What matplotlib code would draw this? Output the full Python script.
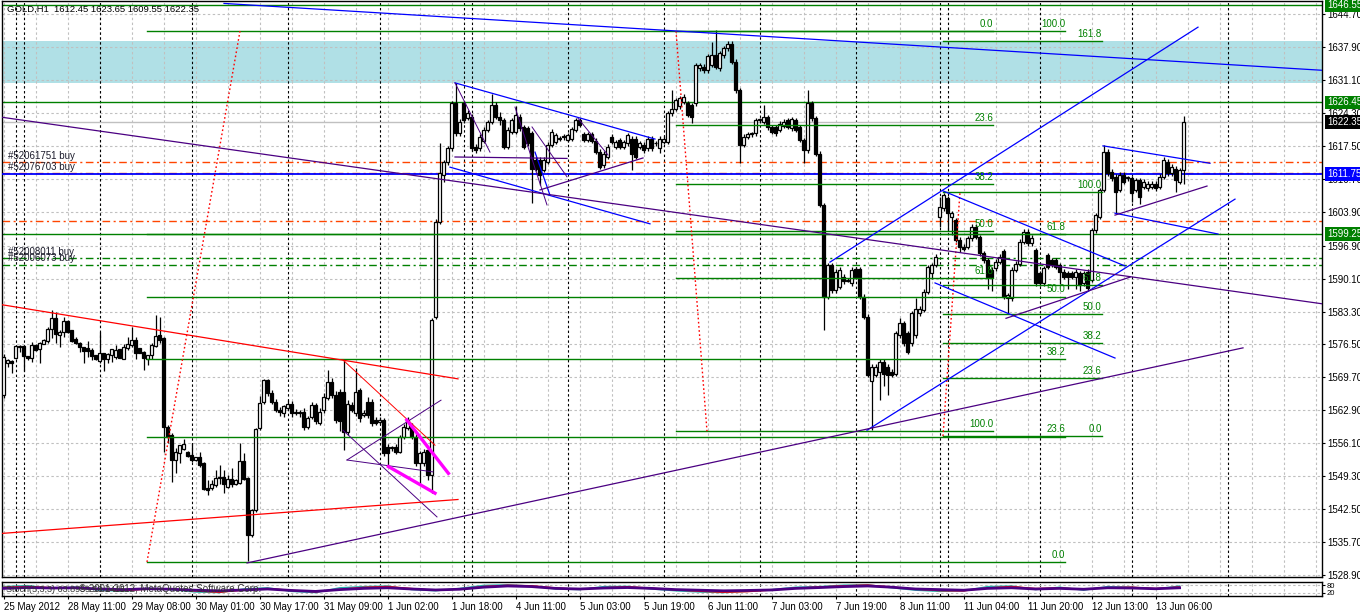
import matplotlib
matplotlib.use("Agg")
import matplotlib.pyplot as plt
from matplotlib.transforms import blended_transform_factory
import numpy as np

plt.rcParams['font.family'] = ['Liberation Sans', 'DejaVu Sans']

# GOLD H1 candles (open, high, low, close), one per hour bar
o = [1566.1, 1572.7, 1573.1, 1573.8, 1576.0, 1576.2, 1574.1, 1573.8, 1576.4, 1575.6,
     1576.6, 1577.3, 1579.6, 1581.9, 1578.4, 1579.1, 1581.4, 1579.4, 1577.6, 1576.9,
     1575.9, 1575.8, 1575.3, 1574.3, 1573.1, 1574.7, 1573.4, 1574.3, 1574.0, 1575.5,
     1573.6, 1575.7, 1576.4, 1577.5, 1575.7, 1575.0, 1573.6, 1574.3, 1576.2, 1578.4,
     1577.8, 1559.5, 1557.8, 1552.6, 1554.0, 1554.9, 1554.4, 1553.7, 1552.6, 1553.3,
     1552.0, 1546.9, 1546.8, 1547.5, 1548.9, 1549.2, 1547.0, 1548.7, 1547.8, 1547.9,
     1552.5, 1548.9, 1537.2, 1542.3, 1559.2, 1564.7, 1569.2, 1566.4, 1564.7, 1563.0,
     1562.3, 1563.3, 1564.3, 1562.3, 1562.6, 1562.6, 1559.5, 1561.6, 1564.0, 1560.2,
     1563.0, 1565.4, 1568.8, 1566.1, 1566.7, 1566.7, 1558.5, 1564.0, 1562.3, 1567.1,
     1562.0, 1564.7, 1564.7, 1560.9, 1560.5, 1560.9, 1555.4, 1555.1, 1555.4, 1554.4,
     1557.5, 1559.2, 1559.5, 1557.5, 1552.0, 1552.0, 1554.7, 1549.5, 1582.2, 1601.8,
     1611.5, 1614.2, 1617.0, 1626.3, 1620.1, 1626.3, 1623.2, 1623.5, 1617.3, 1617.0,
     1618.4, 1620.8, 1622.5, 1626.0, 1623.5, 1622.8, 1617.3, 1620.4, 1620.4, 1623.5,
     1621.4, 1621.1, 1620.1, 1614.6, 1614.6, 1612.5, 1614.2, 1617.7, 1618.3, 1619.0,
     1619.4, 1618.8, 1619.0, 1620.8, 1622.8, 1619.9, 1618.8, 1619.9, 1618.6, 1616.3,
     1613.5, 1615.3, 1619.4, 1617.3, 1618.7, 1617.3, 1618.0, 1619.0, 1619.0, 1617.3,
     1617.7, 1617.0, 1619.0, 1618.0, 1617.0, 1618.3, 1618.3, 1624.2, 1625.2, 1625.7,
     1626.6, 1626.3, 1625.9, 1626.3, 1633.5, 1633.8, 1633.1, 1634.2, 1636.2, 1633.5,
     1636.2, 1637.6, 1638.6, 1634.9, 1629.0, 1617.7, 1619.4, 1619.9, 1620.1, 1622.8,
     1622.5, 1623.4, 1621.4, 1621.4, 1620.8, 1621.6, 1622.8, 1621.1, 1622.8, 1621.4,
     1618.7, 1616.6, 1626.3, 1623.2, 1615.9, 1605.3, 1586.4, 1592.9, 1587.7, 1588.4,
     1590.5, 1589.5, 1589.1, 1592.0, 1592.0, 1586.4, 1582.2, 1568.9, 1570.2, 1570.9,
     1572.9, 1571.9, 1570.9, 1570.5, 1578.4, 1580.9, 1578.8, 1576.7, 1578.4, 1582.9,
     1583.6, 1587.4, 1591.2, 1592.9, 1602.9, 1604.6, 1606.7, 1602.9, 1602.2, 1598.1,
     1596.7, 1596.7, 1598.4, 1600.8, 1598.7, 1595.3, 1593.9, 1591.9, 1592.2, 1593.6,
     1595.7, 1586.0, 1586.0, 1591.9, 1593.2, 1597.7, 1599.8, 1597.4, 1596.0, 1591.2,
     1589.1, 1594.9, 1593.9, 1593.9, 1592.9, 1591.5, 1591.2, 1591.2, 1590.5, 1591.2,
     1589.1, 1591.5, 1589.8, 1600.1, 1602.9, 1608.4, 1616.3, 1612.2, 1611.1, 1608.4,
     1611.5, 1610.8, 1610.8, 1608.4, 1610.4, 1609.1, 1608.7, 1609.1, 1609.7, 1609.1,
     1611.1, 1614.2, 1611.8, 1612.8, 1610.1, 1612.45]
h = [1574.5, 1573.4, 1573.3, 1576.4, 1576.3, 1576.3, 1574.2, 1577.1, 1576.5, 1577.0,
     1577.6, 1580.2, 1583.7, 1583.3, 1579.5, 1582.2, 1581.5, 1579.5, 1578.0, 1577.0,
     1576.0, 1577.2, 1575.7, 1574.4, 1579.1, 1574.8, 1574.7, 1575.6, 1576.4, 1575.6,
     1576.6, 1578.1, 1580.2, 1578.1, 1575.8, 1575.1, 1574.3, 1576.7, 1582.6, 1582.2,
     1578.0, 1559.9, 1558.2, 1555.1, 1555.8, 1556.9, 1554.6, 1556.1, 1553.2, 1554.4,
     1552.3, 1548.6, 1548.5, 1550.6, 1551.6, 1550.6, 1549.6, 1550.9, 1548.7, 1556.2,
     1554.0, 1549.2, 1542.5, 1559.2, 1565.9, 1569.4, 1569.4, 1567.0, 1565.3, 1563.5,
     1564.0, 1565.0, 1564.8, 1563.2, 1563.0, 1563.4, 1561.8, 1564.6, 1564.5, 1563.4,
     1566.5, 1571.2, 1569.5, 1566.8, 1567.3, 1573.3, 1565.0, 1564.6, 1571.6, 1567.6,
     1563.0, 1565.6, 1565.3, 1561.5, 1561.5, 1561.4, 1555.9, 1555.6, 1556.0, 1557.9,
     1560.0, 1561.5, 1560.2, 1558.0, 1554.5, 1555.0, 1555.1, 1582.0, 1602.3, 1618.0,
     1614.6, 1617.4, 1626.8, 1630.4, 1623.0, 1626.8, 1624.8, 1624.0, 1617.8, 1619.9,
     1621.3, 1622.9, 1628.2, 1626.5, 1624.5, 1623.3, 1621.3, 1623.3, 1625.7, 1624.0,
     1621.9, 1621.6, 1620.6, 1615.1, 1615.1, 1615.1, 1618.2, 1620.9, 1620.2, 1619.6,
     1620.0, 1620.2, 1621.4, 1623.2, 1623.3, 1620.4, 1620.4, 1620.4, 1619.1, 1616.8,
     1616.4, 1617.8, 1619.9, 1618.8, 1619.2, 1618.8, 1620.2, 1619.5, 1619.5, 1618.5,
     1618.2, 1619.5, 1619.5, 1618.5, 1619.5, 1619.5, 1624.7, 1629.0, 1627.4, 1627.8,
     1628.1, 1626.8, 1626.4, 1634.7, 1634.7, 1634.3, 1636.5, 1639.0, 1641.4, 1637.1,
     1638.1, 1639.1, 1639.1, 1635.4, 1629.5, 1619.9, 1620.4, 1620.4, 1623.3, 1623.3,
     1625.9, 1623.9, 1621.9, 1621.9, 1622.6, 1623.0, 1623.3, 1623.5, 1623.3, 1621.9,
     1619.2, 1629.0, 1626.8, 1623.7, 1616.4, 1605.8, 1593.4, 1593.4, 1592.0, 1592.4,
     1591.0, 1590.3, 1592.4, 1592.5, 1592.5, 1586.9, 1582.7, 1572.4, 1572.4, 1573.4,
     1573.4, 1572.4, 1571.4, 1579.3, 1582.0, 1581.4, 1579.3, 1583.4, 1586.0, 1584.4,
     1587.9, 1593.0, 1593.4, 1595.1, 1607.0, 1607.7, 1607.2, 1604.1, 1602.7, 1598.6,
     1597.2, 1598.9, 1601.3, 1601.3, 1599.2, 1595.8, 1594.4, 1592.4, 1594.1, 1595.1,
     1596.2, 1587.2, 1592.4, 1593.7, 1598.2, 1600.3, 1600.3, 1599.0, 1596.5, 1591.7,
     1592.7, 1595.4, 1594.4, 1594.4, 1593.4, 1592.0, 1591.7, 1591.7, 1592.0, 1591.7,
     1591.7, 1592.0, 1600.6, 1603.7, 1608.9, 1617.7, 1616.8, 1612.7, 1611.6, 1612.0,
     1612.0, 1611.3, 1611.3, 1610.9, 1610.9, 1610.6, 1610.2, 1610.2, 1610.2, 1611.6,
     1615.1, 1614.7, 1613.7, 1613.3, 1613.0, 1623.65]
l = [1565.5, 1571.8, 1570.7, 1573.6, 1575.0, 1571.1, 1573.3, 1572.9, 1575.2, 1572.7,
     1576.5, 1576.7, 1577.8, 1576.7, 1576.0, 1578.1, 1578.8, 1577.1, 1576.6, 1575.0,
     1572.6, 1574.0, 1573.2, 1573.3, 1572.7, 1571.1, 1572.6, 1572.9, 1573.6, 1573.7,
     1573.4, 1575.4, 1576.0, 1573.6, 1574.7, 1571.2, 1572.3, 1573.6, 1576.0, 1576.7,
     1554.4, 1556.1, 1548.2, 1549.9, 1552.0, 1554.7, 1553.3, 1552.3, 1552.4, 1551.3,
     1546.5, 1545.4, 1546.5, 1547.1, 1547.8, 1545.8, 1546.8, 1547.1, 1547.4, 1547.7,
     1548.5, 1531.7, 1536.8, 1542.0, 1558.8, 1564.3, 1565.9, 1564.2, 1562.5, 1561.8,
     1561.6, 1563.0, 1561.5, 1562.0, 1561.6, 1558.9, 1559.0, 1561.2, 1560.0, 1559.8,
     1562.4, 1565.0, 1565.5, 1560.2, 1558.6, 1554.7, 1557.8, 1562.5, 1561.8, 1560.5,
     1561.5, 1561.4, 1559.6, 1559.8, 1560.0, 1553.5, 1551.3, 1554.6, 1553.9, 1554.0,
     1557.0, 1558.8, 1557.0, 1551.5, 1547.8, 1551.5, 1548.5, 1545.8, 1581.8, 1601.3,
     1610.0, 1613.6, 1616.5, 1619.6, 1619.5, 1622.3, 1622.8, 1616.5, 1616.0, 1616.5,
     1618.0, 1620.3, 1622.0, 1623.0, 1621.8, 1616.8, 1616.8, 1619.9, 1620.0, 1620.6,
     1616.8, 1617.5, 1605.6, 1612.3, 1609.5, 1612.0, 1613.7, 1617.2, 1617.8, 1618.5,
     1618.8, 1618.3, 1618.5, 1620.3, 1621.3, 1618.2, 1618.3, 1618.1, 1615.8, 1612.7,
     1613.0, 1614.8, 1617.8, 1616.8, 1616.8, 1616.8, 1617.5, 1612.5, 1614.7, 1616.8,
     1616.1, 1616.5, 1616.5, 1617.5, 1616.0, 1617.8, 1617.8, 1623.7, 1624.7, 1625.2,
     1626.1, 1623.4, 1622.2, 1625.8, 1633.0, 1632.6, 1632.6, 1633.7, 1633.3, 1633.0,
     1635.7, 1637.1, 1634.4, 1628.5, 1613.9, 1617.2, 1618.9, 1619.4, 1619.6, 1622.3,
     1622.0, 1620.8, 1619.9, 1619.6, 1620.3, 1621.1, 1620.9, 1620.6, 1620.3, 1618.2,
     1613.9, 1616.1, 1622.7, 1615.4, 1604.8, 1579.5, 1585.9, 1587.2, 1587.2, 1587.9,
     1589.0, 1589.3, 1588.6, 1590.0, 1585.9, 1581.7, 1569.7, 1558.8, 1569.7, 1565.0,
     1568.0, 1566.0, 1569.7, 1570.0, 1577.9, 1576.2, 1574.5, 1576.2, 1577.9, 1582.4,
     1583.1, 1586.9, 1590.0, 1592.4, 1600.8, 1604.1, 1600.0, 1599.0, 1597.6, 1595.5,
     1595.8, 1596.2, 1597.9, 1598.2, 1594.8, 1593.4, 1588.0, 1587.5, 1591.7, 1593.1,
     1585.9, 1582.9, 1585.5, 1591.4, 1592.7, 1597.2, 1596.9, 1596.9, 1588.6, 1588.6,
     1588.6, 1592.0, 1592.4, 1592.0, 1589.0, 1590.0, 1588.0, 1590.0, 1588.0, 1587.5,
     1588.6, 1587.6, 1589.3, 1599.6, 1602.4, 1607.9, 1611.3, 1610.3, 1603.6, 1607.9,
     1609.6, 1610.3, 1606.0, 1607.9, 1605.5, 1608.6, 1608.2, 1608.6, 1608.2, 1608.6,
     1610.6, 1611.3, 1611.3, 1608.0, 1609.6, 1609.55]
c = [1574.0, 1573.3, 1572.6, 1576.2, 1576.2, 1574.1, 1573.8, 1576.4, 1575.4, 1576.9,
     1577.4, 1579.6, 1581.9, 1578.7, 1579.1, 1581.4, 1579.1, 1577.3, 1576.9, 1575.9,
     1575.2, 1575.2, 1574.1, 1573.4, 1574.7, 1573.4, 1574.5, 1575.5, 1575.4, 1573.8,
     1576.0, 1576.6, 1577.4, 1574.8, 1574.8, 1573.8, 1574.3, 1576.4, 1578.2, 1577.5,
     1559.5, 1557.5, 1552.6, 1554.2, 1555.7, 1555.9, 1553.4, 1552.6, 1553.2, 1551.6,
     1546.6, 1546.5, 1547.7, 1548.9, 1549.0, 1547.6, 1548.7, 1547.7, 1548.6, 1552.5,
     1548.7, 1537.2, 1542.3, 1559.0, 1564.5, 1569.2, 1566.4, 1564.7, 1563.0, 1562.6,
     1563.7, 1564.3, 1562.3, 1562.6, 1562.3, 1559.5, 1561.3, 1564.0, 1560.6, 1562.6,
     1565.7, 1568.8, 1566.1, 1560.9, 1560.6, 1558.5, 1564.3, 1563.0, 1566.7, 1561.3,
     1562.3, 1561.9, 1560.2, 1560.2, 1560.9, 1554.0, 1554.0, 1555.3, 1554.4, 1557.5,
     1559.5, 1560.9, 1557.5, 1552.0, 1554.0, 1554.4, 1549.5, 1581.5, 1601.8, 1611.8,
     1614.2, 1617.0, 1626.3, 1620.1, 1622.5, 1622.8, 1624.2, 1617.0, 1616.6, 1619.4,
     1620.8, 1622.5, 1626.0, 1623.5, 1622.8, 1617.3, 1620.8, 1622.8, 1623.9, 1621.1,
     1617.3, 1618.0, 1612.8, 1612.8, 1611.5, 1614.6, 1617.7, 1620.4, 1619.7, 1619.1,
     1619.3, 1619.7, 1620.9, 1622.8, 1621.8, 1618.7, 1619.9, 1618.6, 1616.3, 1613.2,
     1615.9, 1617.3, 1618.3, 1618.3, 1617.3, 1618.3, 1619.7, 1615.9, 1615.2, 1618.0,
     1616.6, 1619.0, 1617.0, 1618.1, 1619.0, 1619.0, 1624.2, 1625.2, 1626.9, 1627.3,
     1627.6, 1623.9, 1623.5, 1634.2, 1634.2, 1633.1, 1636.0, 1636.2, 1633.8, 1636.6,
     1637.6, 1638.6, 1634.9, 1629.0, 1617.7, 1619.4, 1619.9, 1620.0, 1622.8, 1622.9,
     1623.5, 1621.3, 1620.4, 1620.1, 1622.1, 1622.5, 1621.4, 1623.0, 1620.8, 1618.7,
     1616.6, 1626.3, 1623.2, 1615.9, 1605.3, 1586.4, 1592.9, 1587.7, 1591.5, 1591.9,
     1589.5, 1589.8, 1591.9, 1590.5, 1586.4, 1582.2, 1570.2, 1571.9, 1571.9, 1572.9,
     1570.5, 1570.2, 1570.2, 1578.8, 1580.9, 1576.7, 1575.0, 1582.9, 1583.9, 1583.9,
     1587.4, 1592.5, 1592.9, 1594.6, 1604.9, 1607.3, 1603.6, 1603.6, 1598.1, 1596.7,
     1596.3, 1598.4, 1600.8, 1598.7, 1595.3, 1593.9, 1590.5, 1590.5, 1593.6, 1594.6,
     1586.4, 1586.7, 1591.9, 1593.2, 1597.7, 1599.8, 1597.4, 1598.5, 1589.1, 1589.1,
     1592.2, 1592.5, 1592.9, 1592.5, 1591.5, 1590.5, 1590.5, 1590.5, 1591.5, 1588.8,
     1591.2, 1588.1, 1600.1, 1603.2, 1608.4, 1616.3, 1611.8, 1610.8, 1608.0, 1611.5,
     1610.1, 1611.0, 1607.7, 1610.4, 1607.0, 1610.1, 1609.7, 1609.7, 1608.7, 1611.1,
     1614.6, 1611.8, 1613.2, 1610.4, 1612.5, 1622.35]

# stochastic sub-window, one value every 6 bars
stoch_step = 6
stoch_k = [70, 78, 55, 65, 40, 30, 55, 45, 25, 20, 50, 60, 30, 20, 60, 70, 75, 45, 35, 55,
           80, 85, 75, 50, 45, 70, 72, 50, 35, 25, 20, 30, 45, 65, 70, 82, 85, 60, 40, 30,
           35, 70, 75, 45, 65, 40, 70, 65, 50, 75]
stoch_d = [65, 72, 62, 60, 48, 35, 48, 48, 32, 22, 40, 55, 40, 25, 48, 65, 72, 55, 40, 48,
           72, 82, 78, 60, 48, 62, 70, 58, 42, 30, 22, 27, 40, 58, 68, 78, 84, 68, 48, 35,
           33, 60, 72, 55, 60, 48, 62, 66, 55, 68]
stoch_slow = [55, 62, 58, 60, 50, 45, 52, 48, 40, 35, 42, 50, 38, 30, 45, 55, 60, 50, 42, 48,
              65, 75, 70, 55, 50, 58, 62, 55, 45, 40, 35, 38, 42, 55, 62, 70, 75, 65, 50, 45,
              40, 55, 60, 50, 55, 48, 60, 58, 52, 60]

date_labels = ["25 May 2012", "28 May 11:00", "29 May 08:00", "30 May 01:00", "30 May 17:00",
               "31 May 09:00", "1 Jun 02:00", "1 Jun 18:00", "4 Jun 11:00", "5 Jun 03:00",
               "5 Jun 19:00", "6 Jun 11:00", "7 Jun 03:00", "7 Jun 19:00", "8 Jun 11:00",
               "11 Jun 04:00", "11 Jun 20:00", "12 Jun 13:00", "13 Jun 06:00"]
label_every = 16
price_ticks = [1644.70, 1637.90, 1631.10, 1624.30, 1617.50, 1610.70, 1603.90, 1596.90, 1590.10,
               1583.30, 1576.50, 1569.70, 1562.90, 1556.10, 1549.30, 1542.50, 1535.70, 1528.90]
day_separators = [3, 5, 24, 47, 71, 94, 115, 117, 141, 165, 189, 213, 234, 236, 259, 282, 306]

# horizontal objects
green_hlines = [1646.55, 1626.45, 1599.25]
blue_hline = 1611.75
bid = 1622.35
zone = (1630.4, 1639.2)
order_names = ["#52061751 buy", "#52076703 buy", "#52008011 buy", "#52006073 buy"]
order_prices = [1614.1, 1611.8, 1594.3, 1593.0]
order_side = ["sell_sl", "sell_sl", "tp", "tp"]
extra_orange = [1602.0]

# fibonacci objects: start bar, end bar, price at 0%, price at 100%, levels
fib_start = [35.85, 168.1, 234.85]
fib_end = [265.4, 247.35, 274.5]
fib_p0 = [1531.6, 1641.2, 1557.6]
fib_p100 = [1641.2, 1558.6, 1608.0]
fib_levels = [[0, 23.6, 38.2, 50, 61.8, 100],
              [0, 23.6, 38.2, 50, 61.8, 100],
              [0, 23.6, 38.2, 50, 61.8, 100, 161.8]]
fib_diag_end = [59.1, 175.85, 239.1]

# trend lines (bar, price) -> (bar, price)
blue_lines = [((55.1, 1646.9), (329.6, 1633.1)),
              ((112.85, 1630.5), (162.85, 1618.9)),
              ((111.6, 1613.1), (161.6, 1601.4)),
              ((206.6, 1593.5), (298.6, 1642.0)),
              ((215.85, 1558.8), (307.85, 1606.5)),
              ((234.85, 1608.2), (280.35, 1592.7)),
              ((232.85, 1589.2), (277.85, 1573.7)),
              ((274.85, 1617.5), (301.6, 1613.9)),
              ((277.85, 1603.6), (303.6, 1599.3)),
              ((132.85, 1616.2), (136.6, 1607.3))]
purple_lines = [((-0.4, 1623.4), (329.6, 1584.9)),
                ((60.85, 1531.4), (309.85, 1575.8)),
                ((277.85, 1603.2), (300.85, 1609.2)),
                ((250.6, 1581.9), (281.6, 1590.4)),
                ((112.85, 1615.2), (140.85, 1614.9)),
                ((134.1, 1608.4), (159.85, 1615.0))]
purple_thin = [((112.85, 1630.5), (121.6, 1616.2)),
               ((127.85, 1625.5), (135.85, 1605.3)),
               ((132.1, 1621.4), (140.85, 1611.1)),
               ((143.6, 1623.2), (151.1, 1615.6)),
               ((84.85, 1558.8), (108.35, 1540.9)),
               ((85.85, 1552.65), (109.35, 1565.0)),
               ((85.85, 1552.65), (107.35, 1550.2))]
red_lines = [((-0.4, 1584.7), (113.6, 1569.4)),
             ((-0.4, 1537.5), (113.6, 1544.5))]
red_thin = [((84.85, 1573.3), (107.85, 1555.7))]
magenta_lines = [((100.8, 1560.9), (111.2, 1549.9)),
                 ((96.2, 1551.3), (107.85, 1545.8))]

W, H = 1360.0, 613.0
fig = plt.figure(figsize=(W / 100, H / 100), dpi=100)
ax = fig.add_axes([2 / W, 36 / H, 1320 / W, 576 / H])
ind = fig.add_axes([2 / W, 17 / H, 1320 / W, 14 / H])

xlo, xhi = -0.4, 329.6
ax.set_xlim(xlo, xhi)
ax.set_ylim(1528.5, 1647.4)

grey = '#C0C0C0'
green = '#008000'
ax.axhspan(zone[0], zone[1], color='#B0E0E6', lw=0, zorder=0)
for p in price_ticks:
    ax.axhline(p, color=grey, lw=0.8, dashes=(2.2, 2.2), zorder=1)
for k in range(0, 42):
    ax.axvline(8 * k, color=grey, lw=0.8, dashes=(2.2, 2.2), zorder=1)
    ind.axvline(8 * k, color=grey, lw=0.8, dashes=(2.2, 2.2), zorder=1)
for s in day_separators:
    ax.axvline(s, color='black', lw=0.8, dashes=(2.2, 2.2), zorder=1.5)
    ind.axvline(s, color='black', lw=0.8, dashes=(2.2, 2.2), zorder=1.5)

# candles
o = np.array(o); h = np.array(h); l = np.array(l); c = np.array(c)
h = np.maximum(h, np.maximum(o, c)); l = np.minimum(l, np.minimum(o, c))
x = np.arange(len(c))
ax.vlines(x, l, h, color='black', lw=0.9, zorder=3)
up = c >= o
body = np.maximum(np.abs(c - o), 0.15)
ax.bar(x, body, bottom=np.minimum(o, c), width=0.68, color=np.where(up, 'white', 'black'),
       edgecolor='black', linewidth=0.9, zorder=3.5)

# horizontal levels
for p in green_hlines:
    ax.axhline(p, color=green, lw=1.0, zorder=2.5)
ax.axhline(blue_hline, color='#0000FF', lw=1.3, zorder=2.6)
ax.axhline(bid, color=grey, lw=1.0, zorder=2.4)
for name, p, side in zip(order_names, order_prices, order_side):
    col = '#FF4500' if side == "sell_sl" else green
    ax.axhline(p, color=col, lw=1.0, dashes=(5.5, 2.5, 1.5, 2.5), zorder=2.5)
    ax.text(1.2, p + 0.35, name, fontsize=7, color='#1c1c2c', va='bottom', ha='left', zorder=6)
for p in extra_orange:
    ax.axhline(p, color='#FF4500', lw=1.0, dashes=(5.5, 2.5, 1.5, 2.5), zorder=2.5)

# fibonacci
for s, e, p0, p1, lv, de in zip(fib_start, fib_end, fib_p0, fib_p100, fib_levels, fib_diag_end):
    for r in lv:
        p = p0 + r / 100.0 * (p1 - p0)
        ax.plot([s, e], [p, p], color=green, lw=1.0, zorder=4)
        ax.text(e, p + 0.45, '%.1f' % r, fontsize=7, color=green, ha='right', va='bottom', zorder=6)
    ax.plot([s, de], [p0, p1], color='red', lw=1.0, ls=(0, (1.2, 1.8)), zorder=4)

for (a, b) in blue_lines:
    ax.plot([a[0], b[0]], [a[1], b[1]], color='#0000FF', lw=0.9, zorder=4)
for (a, b) in purple_lines:
    ax.plot([a[0], b[0]], [a[1], b[1]], color='#4B0082', lw=0.9, zorder=4)
for (a, b) in purple_thin:
    ax.plot([a[0], b[0]], [a[1], b[1]], color='#4B0082', lw=0.7, zorder=4)
for (a, b) in red_lines:
    ax.plot([a[0], b[0]], [a[1], b[1]], color='#FF0000', lw=0.9, zorder=4)
for (a, b) in red_thin:
    ax.plot([a[0], b[0]], [a[1], b[1]], color='#FF0000', lw=0.7, zorder=4)
for (a, b) in magenta_lines:
    ax.plot([a[0], b[0]], [a[1], b[1]], color='#FF00FF', lw=2.4, zorder=4.5)

# axis styling
for sp in ax.spines.values():
    sp.set_linewidth(1.0)
ax.set_xticks([])
ax.yaxis.tick_right()
ax.set_yticks(price_ticks)
ax.set_yticklabels(['%.2f' % p for p in price_ticks])
ax.tick_params(axis='y', direction='out', length=2.5, width=0.8, pad=1.5, labelsize=7)

tr = blended_transform_factory(ax.transAxes, ax.transData)
price_tags = [1646.55, 1626.45, 1622.35, 1611.75, 1599.25]
tag_colors = [green, green, 'black', '#0000FF', green]
for p, col in zip(price_tags, tag_colors):
    ax.text(1.0 + 5 / 1320, p, '%.2f' % p, transform=tr, fontsize=7, color='white',
            ha='left', va='center', clip_on=False, zorder=10,
            bbox=dict(boxstyle='square,pad=0.2', fc=col, ec='none'))

ax.text(0.004, 0.993, 'GOLD,H1  1612.45 1623.65 1609.55 1622.35', transform=ax.transAxes,
        fontsize=6.8, ha='left', va='top', color='black', zorder=7)

# stochastic window
ind.set_xlim(xlo, xhi)
ind.set_ylim(-8, 108)
sx = np.arange(len(stoch_k)) * stoch_step
ind.axhline(80, color=grey, lw=0.8, dashes=(2.2, 2.2))
ind.axhline(20, color=grey, lw=0.8, dashes=(2.2, 2.2))
ind.plot(sx, stoch_k, color='#20B2AA', lw=1.0, zorder=3)
ind.plot(sx, stoch_d, color='red', lw=0.8, zorder=3)
ind.plot(sx, stoch_slow, color='#4B0082', lw=2.0, zorder=3.5)
ind.text(0.003, 0.5, 'Stoch(5,3,3) 63.8959 59.2415', transform=ind.transAxes, fontsize=6.5,
         va='center', ha='left', color='#333333', zorder=6)
ind.text(0.058, 0.5, '\u00a9 2001-2012, MetaQuotes Software Corp.', transform=ind.transAxes,
         fontsize=7, va='center', ha='left', color='#333333', zorder=6)
ind.yaxis.tick_right()
ind.set_yticks([80, 20])
ind.set_yticklabels(['80', '20'])
ind.tick_params(axis='y', direction='out', length=2, pad=1.5, labelsize=5.5)
ind.set_xticks(np.arange(len(date_labels)) * label_every)
ind.set_xticklabels(date_labels, ha='left')
ind.tick_params(axis='x', direction='out', length=2.5, width=0.8, pad=1.5, labelsize=7)
for sp in ind.spines.values():
    sp.set_linewidth(1.0)

fig.savefig('out.png', dpi=100)
